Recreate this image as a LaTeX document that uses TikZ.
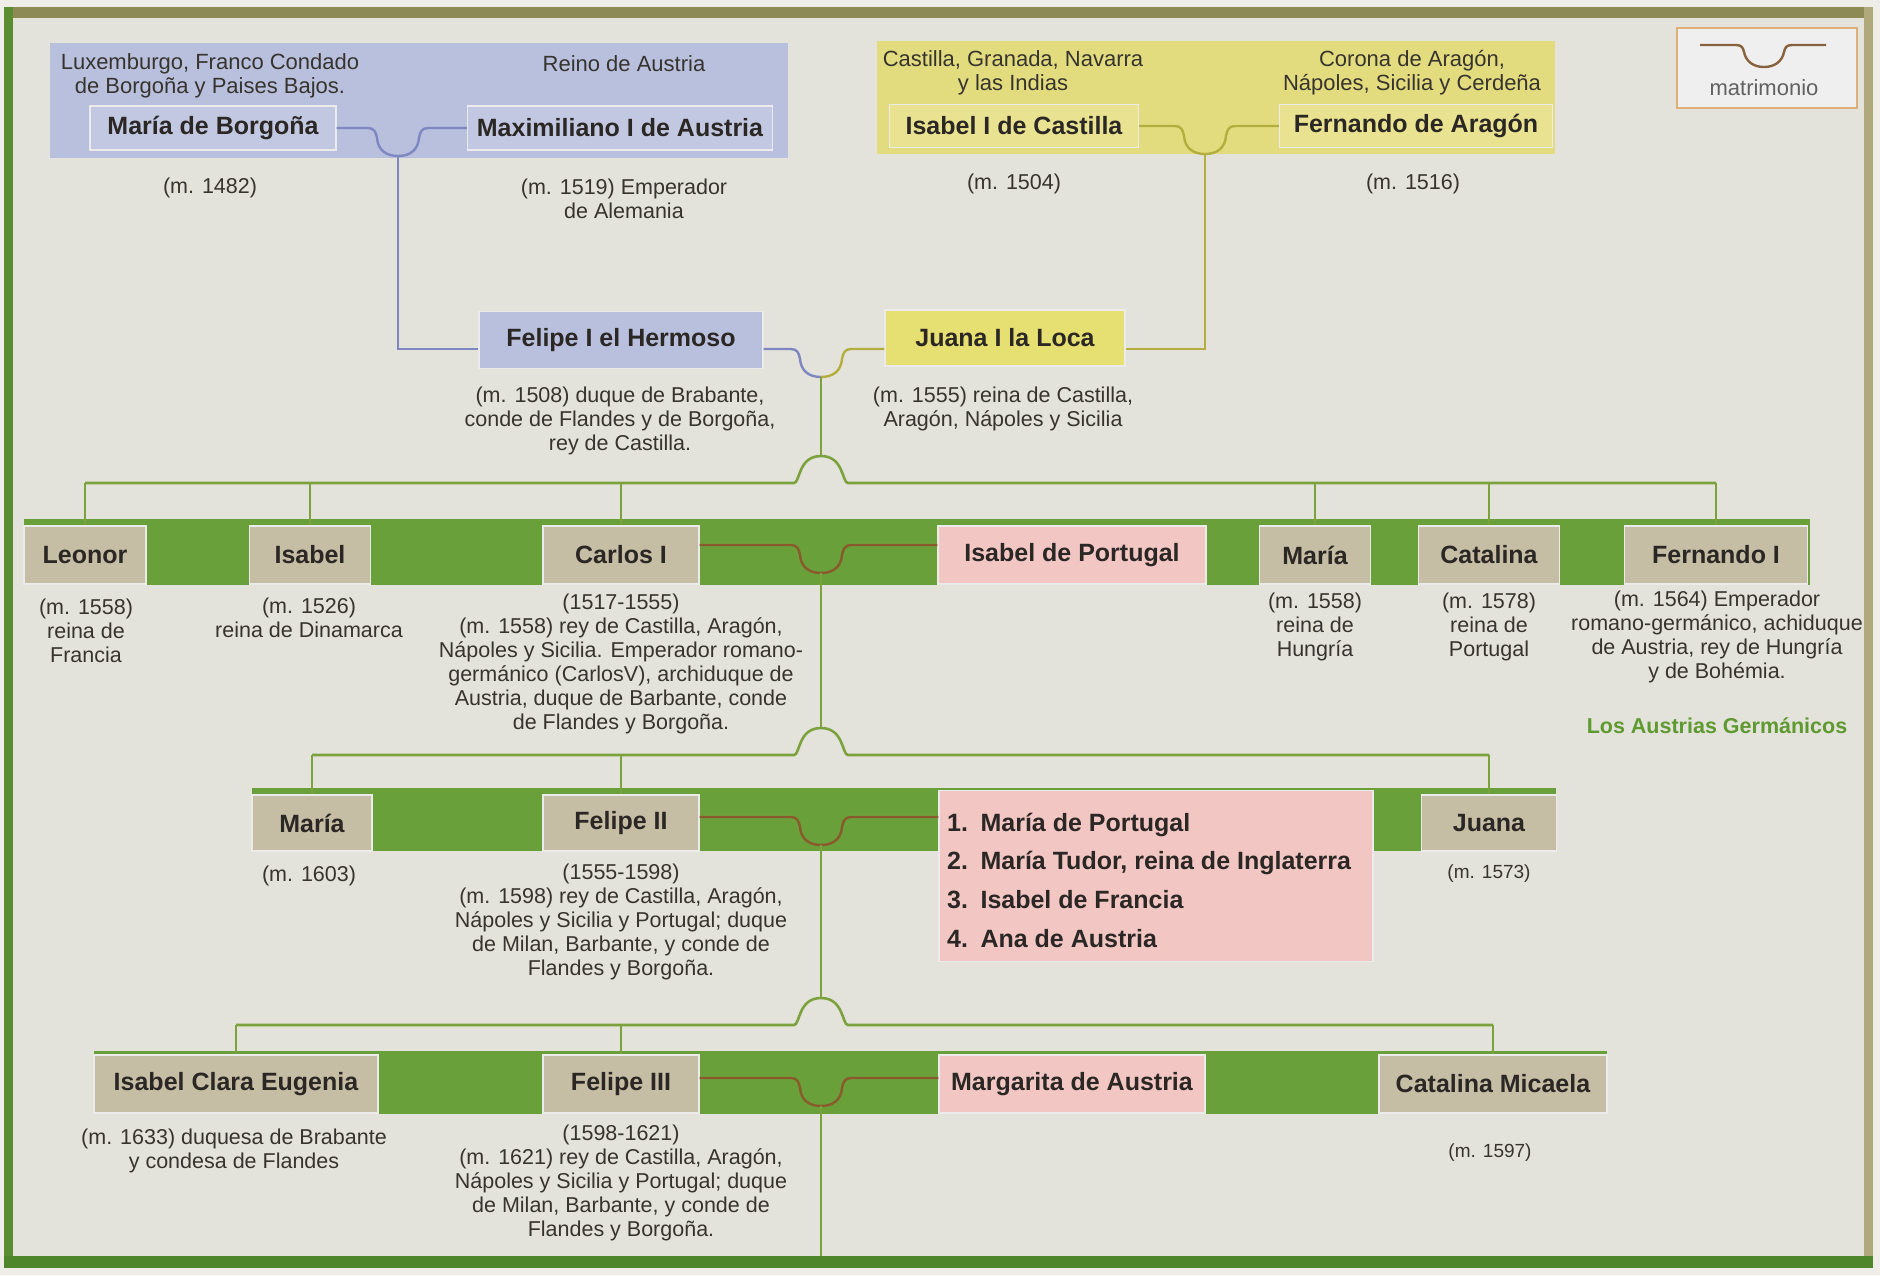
\documentclass[tikz,border=0pt]{standalone}
\usepackage{fontspec}
\setmainfont{Liberation Sans}
\usetikzlibrary{calc}
\definecolor{outerc}{HTML}{EEEDE8}
\definecolor{bgc}{HTML}{E3E2DB}
\definecolor{frameL}{HTML}{5A8C30}
\definecolor{frameT}{HTML}{8E8A55}
\definecolor{frameR}{HTML}{B0A97C}
\definecolor{frameB}{HTML}{4E862C}
\definecolor{bluereg}{HTML}{B9C0DD}
\definecolor{bluebox}{HTML}{C2C8E1}
\definecolor{blueln}{HTML}{7F87C2}
\definecolor{yelreg}{HTML}{E3DC7F}
\definecolor{yelbox}{HTML}{E9E391}
\definecolor{yelln}{HTML}{B3AE3E}
\definecolor{bandg}{HTML}{69A03A}
\definecolor{treeg}{HTML}{7CA23E}
\definecolor{tanbox}{HTML}{C6BDA5}
\definecolor{pinkbox}{HTML}{F1C6C3}
\definecolor{brownln}{HTML}{8A5A2C}
\definecolor{txtc}{HTML}{2B2724}
\definecolor{smtxt}{HTML}{37342F}
\definecolor{austg}{HTML}{5E9A30}
\definecolor{legb}{HTML}{DDB07A}
\definecolor{legfill}{HTML}{EFEFF0}
\tikzset{
  region/.style={inner sep=0, draw=none},
  pbox/.style={draw=white!92!black, line width=1.2pt, inner sep=0,
    font=\bfseries\fontsize{25}{30}\selectfont, text=txtc},
  small/.style={font=\fontsize{21.5}{24}\selectfont, text=smtxt, align=center, inner sep=0},
  tiny/.style={font=\fontsize{19}{22}\selectfont, text=smtxt, align=center, inner sep=0},
  rlabel/.style={font=\fontsize{22}{24}\selectfont, text=smtxt, align=center, inner sep=0},
  gline/.style={draw=treeg, line width=2.6pt},
  bline/.style={draw=blueln, line width=2.4pt},
  yline/.style={draw=yelln, line width=2.4pt},
  mline/.style={draw=brownln, line width=2.4pt},
  marU/.style 2 args={insert path={
    -- ({#1-30},#2) .. controls ({#1-24},#2) and ({#1-22},{#2+4}) .. ({#1-21},{#2+10})
    .. controls ({#1-20},{#2+22}) and ({#1-12},{#2+28}) .. (#1,{#2+28})
    .. controls ({#1+12},{#2+28}) and ({#1+20},{#2+22}) .. ({#1+21},{#2+10})
    .. controls ({#1+22},{#2+4}) and ({#1+24},#2) .. ({#1+30},#2) }},
  archUp/.style 2 args={insert path={
    -- ({#1-27},#2) .. controls ({#1-21},#2) and ({#1-23},{#2-27}) .. (#1,{#2-27})
    .. controls ({#1+23},{#2-27}) and ({#1+21},#2) .. ({#1+27},#2) }},
}
\begin{document}
\begin{tikzpicture}[x=1pt,y=-1pt]
\useasboundingbox (0,0) rectangle (1880,1275);
\fill[outerc] (0,0) rectangle (1880,1275);
\fill[bgc] (5,12) rectangle (1872,1266);
\fill[frameT] (4,7) rectangle (1873,18);
\fill[frameL] (4,7) rectangle (13,1268);
\fill[frameR] (1864,7) rectangle (1873,1268);
\fill[frameB] (4,1256) rectangle (1873,1268);

% regions
\node[region, fill=bluereg, minimum width=738, minimum height=115] (breg) at (419,100) {};
\node[region, fill=yelreg, minimum width=678, minimum height=113] (yreg) at (1216,97) {};

% legend
\node[draw=legb, line width=2.2pt, fill=legfill, minimum width=180, minimum height=80, inner sep=0] (leg) at (1767,68) {};
\node[font=\fontsize{22}{24}\selectfont, text=black!62, inner sep=0] (legt) at (1764,88) {matrimonio};
\draw[mline, draw=brownln!80!gray] (1700,45) -- (1736,45) .. controls (1742,45) and (1743,48) .. (1744,52) .. controls (1746,62) and (1754,67) .. (1764,67) .. controls (1774,67) and (1782,62) .. (1784,52) .. controls (1785,48) and (1786,45) .. (1792,45) -- (1826,45);

% bands
\fill[bandg] (24,519) rectangle (1810,585);
\fill[bandg] (252,788) rectangle (1556,851);
\fill[bandg] (94,1051) rectangle (1607,1114);

% region labels
\node[rlabel] (lmb) at (210,76) {Luxemburgo, Franco Condado\\de Borgoña y Paises Bajos.};
\node[rlabel] (lmx) at (624,64) {Reino de Austria};
\node[rlabel] (lic) at (1013,73) {Castilla, Granada, Navarra\\y las Indias};
\node[rlabel] (lfa) at (1412,73) {Corona de Aragón,\\Nápoles, Sicilia y Cerdeña};

% persons
\node[pbox, fill=bluebox, minimum width=246, minimum height=44] (mb) at (213,128) {María de Borgoña};
\node[pbox, fill=bluebox, minimum width=305, minimum height=44] (mx) at (620,128) {Maximiliano I de Austria};
\node[pbox, fill=yelbox, minimum width=249, minimum height=43] (ic) at (1014,126) {Isabel I de Castilla};
\node[pbox, fill=yelbox, minimum width=273, minimum height=43] (fa) at (1416,126) {Fernando de Aragón};

\node[pbox, fill=bluereg, minimum width=284, minimum height=57] (fel) at (621,340) {Felipe I el Hermoso};
\node[pbox, fill=yelreg!90!yellow, minimum width=240, minimum height=56] (jua) at (1005,338) {Juana I la Loca};

\node[pbox, fill=tanbox, minimum width=122, minimum height=58] (leo) at (85,555) {Leonor};
\node[pbox, fill=tanbox, minimum width=121, minimum height=58] (isa) at (310,555) {Isabel};
\node[pbox, fill=tanbox, minimum width=156, minimum height=58] (car) at (621,555) {Carlos I};
\node[pbox, fill=pinkbox, minimum width=268, minimum height=58] (ipo) at (1072,555) {Isabel de Portugal};
\node[pbox, fill=tanbox, minimum width=111, minimum height=58] (mar1) at (1315,555) {María};
\node[pbox, fill=tanbox, minimum width=141, minimum height=58] (cat) at (1489,555) {Catalina};
\node[pbox, fill=tanbox, minimum width=183, minimum height=58] (fer1) at (1716,555) {Fernando I};

\node[pbox, fill=tanbox, minimum width=120, minimum height=56] (mar2) at (312,823) {María};
\node[pbox, fill=tanbox, minimum width=156, minimum height=56] (fel2) at (621,823) {Felipe II};
\node[pbox, fill=pinkbox, minimum width=434, minimum height=171] (wives) at (1156,876) {};
\node[font=\bfseries\fontsize{25}{38.7}\selectfont, text=txtc, align=left, inner sep=0, anchor=west] (wl) at (947,880)
  {1.\enspace María de Portugal\\2.\enspace María Tudor, reina de Inglaterra\\3.\enspace Isabel de Francia\\4.\enspace Ana de Austria};
\node[pbox, fill=tanbox, minimum width=135, minimum height=56] (jua2) at (1489,823) {Juana};

\node[pbox, fill=tanbox, minimum width=284, minimum height=58] (ice) at (236,1084) {Isabel Clara Eugenia};
\node[pbox, fill=tanbox, minimum width=156, minimum height=58] (fel3) at (621,1084) {Felipe III};
\node[pbox, fill=pinkbox, minimum width=266, minimum height=58] (mga) at (1072,1084) {Margarita de Austria};
\node[pbox, fill=tanbox, minimum width=228, minimum height=58] (cm) at (1493,1084) {Catalina Micaela};

% descriptions
\node[small] (tmb) at (210,188) {(m. 1482)};
\node[small] (tmx) at (624,199) {(m. 1519) Emperador\\de Alemania};
\node[small] (tic) at (1014,184) {(m. 1504)};
\node[small] (tfa) at (1413,184) {(m. 1516)};
\node[small] (tfel) at (620,421) {(m. 1508) duque de Brabante,\\conde de Flandes y de Borgoña,\\rey de Castilla.};
\node[small] (tjua) at (1003,409) {(m. 1555) reina de Castilla,\\Aragón, Nápoles y Sicilia};
\node[small] (tleo) at (86,631) {(m. 1558)\\reina de\\Francia};
\node[small] (tisa) at (309,618) {(m. 1526)\\reina de Dinamarca};
\node[small] (tcar) at (621,664) {(1517-1555)\\(m. 1558) rey de Castilla, Aragón,\\Nápoles y Sicilia. Emperador romano-\\germánico (CarlosV), archiduque de\\Austria, duque de Barbante, conde\\de Flandes y Borgoña.};
\node[small] (tmar1) at (1315,627) {(m. 1558)\\reina de\\Hungría};
\node[small] (tcat) at (1489,627) {(m. 1578)\\reina de\\Portugal};
\node[small] (tfer1) at (1717,637) {(m. 1564) Emperador\\romano-germánico, achiduque\\de Austria, rey de Hungría\\y de Bohémia.};
\node[font=\bfseries\fontsize{21.5}{24}\selectfont, text=austg, inner sep=0] (aust) at (1717,726) {Los Austrias Germánicos};
\node[small] (tmar2) at (309,876) {(m. 1603)};
\node[small] (tfel2) at (621,922) {(1555-1598)\\(m. 1598) rey de Castilla, Aragón,\\Nápoles y Sicilia y Portugal; duque\\de Milan, Barbante, y conde de\\Flandes y Borgoña.};
\node[tiny] (tjua2) at (1489,874) {(m. 1573)};
\node[small] (tice) at (234,1151) {(m. 1633) duquesa de Brabante\\y condesa de Flandes};
\node[small] (tfel3) at (621,1183) {(1598-1621)\\(m. 1621) rey de Castilla, Aragón,\\Nápoles y Sicilia y Portugal; duque\\de Milan, Barbante, y conde de\\Flandes y Borgoña.};
\node[tiny] (tcm) at (1490,1153) {(m. 1597)};

% connectors: top marriages
\coordinate (u1) at (398,156);
\draw[bline] (mb.east) [marU={398}{128}] -- (mx.west);
\draw[bline] (u1) |- ([yshift=-9pt]fel.west);
\coordinate (u2) at (1205,154);
\draw[yline] (ic.east) [marU={1205}{126}] -- (fa.west);
\draw[yline] (u2) |- ([yshift=-11pt]jua.east);

% Felipe - Juana
\coordinate (u3) at (821,377);
\draw[bline] ([yshift=-9pt]fel.east) -- (791,349) .. controls (797,349) and (799,353) .. (800,359) .. controls (801,371) and (809,377) .. (u3);
\draw[yline] (u3) .. controls (833,377) and (841,371) .. (842,359) .. controls (843,353) and (845,349) .. (851,349) -- ([yshift=-11pt]jua.west);
\coordinate (a1) at (821,456);
\draw[gline] (u3) -- (a1);

% row 1 tree
\coordinate (h1) at (821,483);
\draw[gline] (leo.north |- h1) [archUp={821}{483}] -- (fer1.north |- h1);
\foreach \n in {leo,isa,car,mar1,cat,fer1} \draw[gline] (\n.north) -- (\n.north |- h1);

% Carlos - Isabel de Portugal
\coordinate (u4) at (821,573);
\draw[mline] ([yshift=10pt]car.east) [marU={821}{545}] -- ([yshift=10pt]ipo.west);
\coordinate (a2) at (821,728);
\draw[gline] (u4) -- (a2);

% row 2 tree
\coordinate (h2) at (821,755);
\draw[gline] (mar2.north |- h2) [archUp={821}{755}] -- (jua2.north |- h2);
\foreach \n in {mar2,fel2,jua2} \draw[gline] (\n.north) -- (\n.north |- h2);

% Felipe II marriages
\coordinate (u5) at (821,845);
\draw[mline] ([yshift=6pt]fel2.east) [marU={821}{817}] -- ([yshift=6pt]fel2.east -| wives.west);
\coordinate (a3) at (821,998);
\draw[gline] (u5) -- (a3);

% row 3 tree
\coordinate (h3) at (821,1025);
\draw[gline] (ice.north |- h3) [archUp={821}{1025}] -- (cm.north |- h3);
\foreach \n in {ice,fel3,cm} \draw[gline] (\n.north) -- (\n.north |- h3);

% Felipe III - Margarita
\coordinate (u6) at (821,1106);
\draw[mline] ([yshift=6pt]fel3.east) [marU={821}{1078}] -- ([yshift=6pt]mga.west);
\coordinate (bot) at (821,1256);
\draw[gline] (u6) -- (bot);
\end{tikzpicture}
\end{document}
